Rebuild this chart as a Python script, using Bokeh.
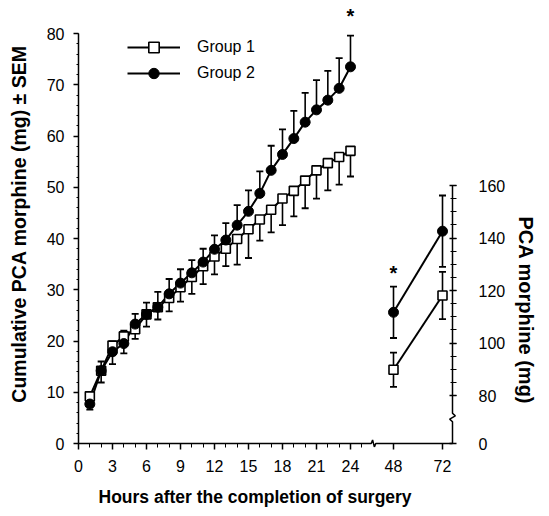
from bokeh.plotting import figure
from bokeh.models import (Range1d, LinearAxis, FixedTicker, Whisker, TeeHead,
                          ColumnDataSource, Legend, LegendItem, Title)
from bokeh.core.properties import value
from bokeh.embed import file_html
from bokeh.resources import INLINE

# ---------------- data ----------------
hours = list(range(1, 25))
g1_mean = [9.2, 14.2, 19.1, 20.9, 22.3, 25.2, 26.6, 28.4, 30.5, 32.5, 34.6, 36.5,
           38.0, 39.9, 41.8, 43.7, 45.6, 47.8, 49.3, 51.3, 53.3, 54.7, 55.9, 57.1]
g1_sem = [2.6, 2.3, 3.6, 3.3, 1.9, 2.4, 2.4, 2.6, 2.8, 3.3, 3.5, 3.5,
          3.4, 5.0, 5.6, 4.1, 4.4, 5.2, 5.0, 5.4, 5.5, 5.3, 5.4, 5.0]
g2_mean = [7.7, 14.2, 17.9, 19.5, 23.3, 25.2, 26.6, 29.2, 31.3, 33.3, 35.4, 37.9,
           39.7, 42.6, 45.3, 48.8, 53.3, 56.4, 59.5, 62.7, 65.1, 67.0, 69.3, 73.5]
g2_sem = [1.5, 1.8, 2.0, 2.5, 2.0, 2.3, 3.0, 2.9, 2.7, 2.5, 2.6, 2.7,
          3.3, 3.9, 4.1, 4.3, 4.8, 4.9, 5.4, 5.7, 5.8, 5.7, 5.9, 6.1]

late_hours = [48, 72]
g1_late = [89.8, 118.1]
g1_late_sem = [6.5, 9.0]
g2_late = [111.7, 142.6]
g2_late_sem = [9.8, 13.6]

left_ticks = [0, 10, 20, 30, 40, 50, 60, 70, 80]
bottom_ticks = [0, 3, 6, 9, 12, 15, 18, 21, 24]
right_ticks = [80, 100, 120, 140, 160]
star_main_hour = [24]
star_late_hour = [48]

x_title = "Hours after the completion of surgery"
y_title = "Cumulative PCA morphine (mg) \u00b1 SEM"
r_title = "PCA morphine (mg)"

FONT = "Liberation Sans"

# ---------------- geometry ----------------
main_px = 11.333          # px per hour, 0-24 part
late_px = 2.0417          # px per hour, 48-72 part
left_px = 5.125           # px per mg, left axis
right_px = 2.625          # px per mg, right axis
gap = 4                   # px between drawn axis lines and frame edge
frame_w = 378
frame_h = 447
W, H = 545, 516
y_start = -gap / left_px
y_end = y_start + frame_h / left_px
x_end = frame_w / main_px
axis_x_right = (frame_w - gap) / main_px
late_start = 48 - 315 / late_px
late_end = late_start + frame_w / late_px
right_zero = 80 - 48 / right_px           # where the right axis reads "0"
r_start = right_zero - gap / right_px
r_end = r_start + frame_h / right_px


def late_to_main(v):
    return (v - late_start) * late_px / main_px


p = figure(width=W, height=H, output_backend="svg", toolbar_location=None,
           x_range=Range1d(0, x_end), y_range=Range1d(y_start, y_end),
           x_axis_type=None, y_axis_type=None,
           min_border_left=78, min_border_right=W - 78 - frame_w,
           min_border_top=0, min_border_bottom=H - frame_h)
p.outline_line_color = None
p.background_fill_color = "white"
p.extra_x_ranges = {"late": Range1d(late_start, late_end)}
p.extra_y_ranges = {"right": Range1d(r_start, r_end)}

# ---------------- main series ----------------
src1 = ColumnDataSource(dict(x=hours, y=g1_mean,
                             lo=[m - s for m, s in zip(g1_mean, g1_sem)]))
src2 = ColumnDataSource(dict(x=hours, y=g2_mean,
                             hi=[m + s for m, s in zip(g2_mean, g2_sem)]))

p.add_layout(Whisker(source=src1, base="x", upper="y", lower="lo", dimension="height",
                     upper_head=None,
                     lower_head=TeeHead(size=7, line_width=1.8, line_color="black"),
                     line_color="black", line_width=1.6))
p.add_layout(Whisker(source=src2, base="x", upper="hi", lower="y", dimension="height",
                     lower_head=None,
                     upper_head=TeeHead(size=7, line_width=1.8, line_color="black"),
                     line_color="black", line_width=1.6))

l1 = p.line("x", "y", source=src1, line_color="black", line_width=2)
l2 = p.line("x", "y", source=src2, line_color="black", line_width=2)
s1 = p.scatter("x", "y", source=src1, marker="square", size=9, fill_color="white",
               line_color="black", line_width=1.6)
s2 = p.scatter("x", "y", source=src2, marker="circle", size=10, fill_color="black",
               line_color="black")

# ---------------- late series ----------------
lsrc1 = ColumnDataSource(dict(x=late_hours, y=g1_late,
                              lo=[m - s for m, s in zip(g1_late, g1_late_sem)],
                              hi=[m + s for m, s in zip(g1_late, g1_late_sem)]))
lsrc2 = ColumnDataSource(dict(x=late_hours, y=g2_late,
                              lo=[m - s for m, s in zip(g2_late, g2_late_sem)],
                              hi=[m + s for m, s in zip(g2_late, g2_late_sem)]))
for s in (lsrc1, lsrc2):
    p.add_layout(Whisker(source=s, base="x", upper="hi", lower="lo", dimension="height",
                         x_range_name="late", y_range_name="right",
                         upper_head=TeeHead(size=7, line_width=1.8, line_color="black"),
                         lower_head=TeeHead(size=7, line_width=1.8, line_color="black"),
                         line_color="black", line_width=1.6))
p.line("x", "y", source=lsrc1, x_range_name="late", y_range_name="right",
       line_color="black", line_width=2)
p.line("x", "y", source=lsrc2, x_range_name="late", y_range_name="right",
       line_color="black", line_width=2)
p.scatter("x", "y", source=lsrc1, x_range_name="late", y_range_name="right",
          marker="square", size=9, fill_color="white", line_color="black", line_width=1.6)
p.scatter("x", "y", source=lsrc2, x_range_name="late", y_range_name="right",
          marker="circle", size=10, fill_color="black", line_color="black")

# ---------------- significance stars ----------------
p.text(x=star_main_hour, y=[g2_mean[-1] + g2_sem[-1] + 3.8], text=["*"],
       text_font=value(FONT), text_font_size="20px", text_font_style="bold",
       text_align="center", text_baseline="alphabetic", text_color="black")
p.text(x=star_late_hour, y=[g2_late[0] + g2_late_sem[0] + 5.3], text=["*"],
       x_range_name="late", y_range_name="right",
       text_font=value(FONT), text_font_size="20px", text_font_style="bold",
       text_align="center", text_baseline="alphabetic", text_color="black")

# ---------------- axis lines with breaks ----------------
brk_x = (373 - 78) / main_px
p.line(x=[0, brk_x - 0.2, brk_x - 0.08, brk_x + 0.08, brk_x + 0.2, axis_x_right],
       y=[0, 0, 0.7, -0.7, 0, 0], line_color="black", line_width=1.5)
brk_r = right_zero + 26 / right_px
p.line(x=[axis_x_right, axis_x_right, axis_x_right - 0.25, axis_x_right + 0.25,
          axis_x_right, axis_x_right],
       y=[right_zero, brk_r - 1.6, brk_r - 0.6, brk_r + 0.6, brk_r + 1.6, right_ticks[-1]],
       y_range_name="right", line_color="black", line_width=1.5)

# ---------------- axes ----------------
def style(ax):
    ax.major_tick_line_color = "black"
    ax.major_tick_line_width = 1.5
    ax.minor_tick_line_color = "black"
    ax.major_label_text_font = FONT
    ax.major_label_text_font_size = "16px"
    ax.major_label_text_color = "black"
    ax.axis_label_text_font = FONT
    ax.axis_label_text_font_style = "bold"
    ax.axis_label_text_color = "black"


pos48 = late_to_main(late_hours[0])
pos72 = late_to_main(late_hours[1])
xaxis = LinearAxis(ticker=FixedTicker(ticks=bottom_ticks + [pos48, pos72],
                                      minor_ticks=list(range(0, 26))),
                   major_label_overrides={pos48: str(late_hours[0]), pos72: str(late_hours[1])})
style(xaxis)
xaxis.axis_line_color = None
xaxis.major_tick_in = gap
xaxis.major_tick_out = 2
xaxis.minor_tick_in = gap
xaxis.minor_tick_out = 0
xaxis.major_label_standoff = 10
p.add_layout(xaxis, "below")

yaxis = LinearAxis(ticker=FixedTicker(ticks=left_ticks, minor_ticks=list(range(0, 81, 2))),
                   bounds=(0, 80), axis_label=y_title)
style(yaxis)
yaxis.axis_label_text_font_size = "19.5px"
yaxis.axis_line_color = "black"
yaxis.axis_line_width = 1.5
yaxis.major_tick_in = 0
yaxis.major_tick_out = 5
yaxis.minor_tick_in = 0
yaxis.minor_tick_out = 2
yaxis.major_label_standoff = 9
yaxis.axis_label_standoff = 14
p.add_layout(yaxis, "left")

raxis = LinearAxis(y_range_name="right",
                   ticker=FixedTicker(ticks=[right_zero] + right_ticks,
                                      minor_ticks=list(range(80, 161, 5))),
                   major_label_overrides={right_zero: "0"},
                   bounds=(right_zero, right_ticks[-1]))
style(raxis)
raxis.axis_line_color = None
raxis.major_tick_in = gap + 3
raxis.major_tick_out = 0
raxis.minor_tick_in = gap + 2
raxis.minor_tick_out = 0
raxis.major_label_standoff = 22
p.add_layout(raxis, "right")

# axis titles as side titles (real text, positioned along the frame)
p.add_layout(Title(text=x_title, align="left", offset=20, standoff=20,
                   text_font=FONT, text_font_size="17.5px", text_font_style="bold",
                   text_color="black"), "below")
p.add_layout(Title(text=r_title, align="left", offset=216, standoff=13,
                   text_font=FONT, text_font_size="20px", text_font_style="bold",
                   text_color="black"), "right")

# ---------------- legend ----------------
legend = Legend(items=[LegendItem(label="Group 1", renderers=[l1, s1]),
                       LegendItem(label="Group 2", renderers=[l2, s2])],
                location=(49, frame_h - 86), padding=0, margin=0, spacing=0,
                glyph_width=53, glyph_height=26, label_standoff=17,
                label_text_font=FONT, label_text_font_size="16px",
                label_text_color="black",
                border_line_color=None, background_fill_alpha=0)
p.add_layout(legend)

open("out.html", "w").write(file_html(p, INLINE))
